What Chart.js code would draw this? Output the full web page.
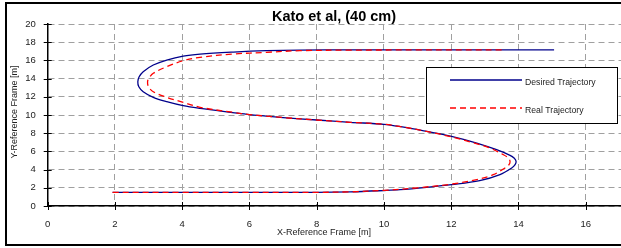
<!DOCTYPE html>
<html>
<head>
<meta charset="utf-8">
<script src="https://cdn.jsdelivr.net/npm/chart.js@4.4.1/dist/chart.umd.min.js"></script>
<style>
html,body{margin:0;padding:0;background:#fff;overflow:hidden;}
canvas{display:block;}
</style>
</head>
<body>
<canvas id="c" width="621" height="248"></canvas>
<script>
const chartTitle = 'Kato et al, (40 cm)';
const xTitle = 'X-Reference Frame [m]';
const yTitle = 'Y-Reference Frame [m]';
const xTicks = [0, 2, 4, 6, 8, 10, 12, 14, 16];
const yTicks = [0, 2, 4, 6, 8, 10, 12, 14, 16, 18, 20];

const desiredLabel = 'Desired Trajectory';
const desiredX = [1.93, 4, 6, 8, 9, 10, 10.48, 11.27, 12.01, 12.85, 13.45, 13.8, 13.9, 13.93, 13.87, 13.75, 13.35, 12.76, 12.01, 11.27, 10.5, 10, 9, 8, 7, 6.5, 6, 5.5, 4.53, 4.03, 3.54, 3.14, 2.84, 2.71, 2.68, 2.72, 2.84, 3.14, 3.54, 4.03, 4.53, 5.52, 6.51, 7.5, 9, 11, 15.06];
const desiredY = [1.5, 1.5, 1.5, 1.5, 1.56, 1.7, 1.79, 2.05, 2.34, 2.78, 3.44, 4.18, 4.54, 4.91, 5.27, 5.57, 6.19, 6.92, 7.66, 8.2, 8.72, 8.98, 9.2, 9.45, 9.72, 9.88, 10.04, 10.27, 10.73, 11.02, 11.46, 11.94, 12.56, 13.1, 13.66, 14.2, 14.76, 15.49, 16.04, 16.48, 16.7, 16.92, 17.07, 17.14, 17.15, 17.15, 17.15];

const realLabel = 'Real Trajectory';
const realX = [1.93, 4, 6, 8, 9, 10, 11, 12, 12.76, 13.25, 13.6, 13.72, 13.75, 13.7, 13.55, 13.15, 12.6, 12, 11.27, 10.5, 10, 9, 8, 7, 6.5, 6, 5.5, 4.53, 4.03, 3.54, 3.14, 3.0, 2.97, 3.02, 3.14, 3.54, 4.03, 4.53, 5.52, 6.51, 7.5, 9, 11, 13.6];
const realY = [1.5, 1.5, 1.5, 1.5, 1.56, 1.72, 2.0, 2.4, 2.9, 3.44, 4.18, 4.55, 4.91, 5.27, 5.64, 6.37, 7.0, 7.6, 8.2, 8.72, 8.98, 9.2, 9.45, 9.72, 9.88, 10.04, 10.3, 10.85, 11.39, 11.94, 12.56, 13.1, 13.66, 14.1, 14.58, 15.31, 15.97, 16.34, 16.7, 16.89, 17.07, 17.13, 17.15, 17.15];

const FONT = "'Liberation Sans', Arial, sans-serif";
const toPts = (xs, ys) => xs.map((x, i) => ({x: x, y: ys[i]}));

const decor = {
  id: 'decor',
  beforeDraw(chart) {
    const ctx = chart.ctx;
    ctx.save();
    ctx.fillStyle = '#fff';
    ctx.fillRect(0, 0, chart.width, chart.height);
    ctx.restore();
  },
  afterDraw(chart) {
    const ctx = chart.ctx;
    const xs = chart.scales.x, ys = chart.scales.y;
    const a = chart.chartArea;
    ctx.save();
    // tick marks crossing the axes
    ctx.strokeStyle = '#000';
    ctx.lineWidth = 1;
    ctx.beginPath();
    xTicks.forEach(v => {
      const p = Math.round(xs.getPixelForValue(v)) + 0.5;
      ctx.moveTo(p, a.bottom - 4); ctx.lineTo(p, a.bottom + 4);
    });
    yTicks.forEach(v => {
      const p = Math.round(ys.getPixelForValue(v)) + 0.5;
      ctx.moveTo(a.left - 4, p); ctx.lineTo(a.left + 4, p);
    });
    ctx.stroke();

    // titles
    ctx.fillStyle = '#000';
    ctx.textAlign = 'center';
    ctx.textBaseline = 'middle';
    ctx.font = 'bold 14.5px ' + FONT;
    ctx.fillText(chartTitle, 334, 17);
    ctx.fillStyle = '#222';
    ctx.font = '9px ' + FONT;
    ctx.fillText(xTitle, 324, 233);
    ctx.save();
    ctx.translate(14.5, 112);
    ctx.rotate(-Math.PI / 2);
    ctx.fillText(yTitle, 0, 0);
    ctx.restore();

    // legend
    const lx = 426, ly = 67, lw = 191, lh = 56;
    ctx.fillStyle = '#fff';
    ctx.fillRect(lx, ly, lw, lh);
    ctx.strokeStyle = '#000';
    ctx.lineWidth = 1;
    ctx.strokeRect(lx + 0.5, ly + 0.5, lw, lh);
    const items = chart.data.datasets.slice().sort((p, q) => q.order - p.order);
    items.forEach((ds, i) => {
      const yy = 80 + i * 28;
      ctx.strokeStyle = ds.borderColor;
      ctx.lineWidth = ds.borderWidth;
      ctx.setLineDash(ds.borderDash || []);
      ctx.beginPath();
      ctx.moveTo(450, yy); ctx.lineTo(522, yy);
      ctx.stroke();
      ctx.setLineDash([]);
      ctx.fillStyle = '#222';
      ctx.font = '8.7px ' + FONT;
      ctx.textAlign = 'left';
      ctx.fillText(ds.label, 525, yy + 3);
    });

    // outer frame
    ctx.strokeStyle = '#000';
    ctx.lineWidth = 2;
    ctx.strokeRect(6, 3, 640, 242);
    ctx.restore();
  }
};

new Chart(document.getElementById('c'), {
  type: 'scatter',
  data: {
    datasets: [
      {label: realLabel, data: toPts(realX, realY), showLine: true, borderColor: '#ff0000', borderWidth: 1.3, borderDash: [6, 4], pointRadius: 0, tension: 0.35, order: 0, fill: false},
      {label: desiredLabel, data: toPts(desiredX, desiredY), showLine: true, borderColor: '#00008b', borderWidth: 1.3, pointRadius: 0, tension: 0.35, order: 1, fill: false}
    ]
  },
  options: {
    responsive: false,
    animation: false,
    devicePixelRatio: 1,
    layout: {padding: {top: 24, left: 0, right: 0, bottom: 0}},
    plugins: {legend: {display: false}, title: {display: false}, tooltip: {enabled: false}},
    scales: {
      x: {
        type: 'linear', min: 0, max: 17.05,
        afterBuildTicks: s => { s.ticks = xTicks.map(v => ({value: v})); },
        afterFit: s => { s.height = 42; },
        grid: {color: '#a0a0a0', drawTicks: false, lineWidth: 1},
        border: {display: true, color: '#000', width: 1.5, dash: [6, 4]},
        ticks: {padding: 13, font: {family: FONT, size: 9.5}, color: '#222', maxRotation: 0}
      },
      y: {
        type: 'linear', min: 0, max: 20,
        afterBuildTicks: s => { s.ticks = yTicks.map(v => ({value: v})); },
        afterFit: s => { s.width = 47.7; },
        grid: {color: '#a0a0a0', drawTicks: false, lineWidth: 1},
        border: {display: true, color: '#000', width: 1.5, dash: [6, 4]},
        ticks: {padding: 12, font: {family: FONT, size: 9.5}, color: '#222'}
      }
    }
  },
  plugins: [decor]
});
</script>
</body>
</html>
